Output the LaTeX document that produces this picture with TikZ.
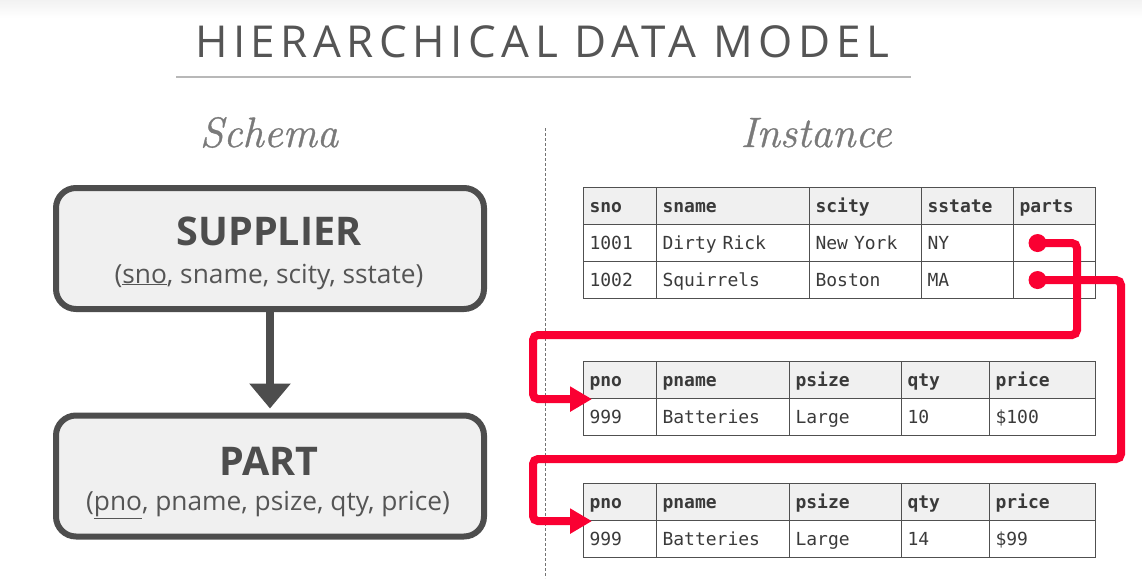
\documentclass[tikz,border=0pt]{standalone}
\usepackage{fontspec}
\setmainfont{Open Sans}
\newfontfamily\monof{DejaVu Sans Mono}
\newfontfamily\lmfont{Latin Modern Roman}[FakeBold=0.8]
\usetikzlibrary{arrows.meta}
\definecolor{boxline}{HTML}{4D4D4D}
\definecolor{boxfill}{HTML}{F0F0F0}
\definecolor{redc}{HTML}{FA0032}
\definecolor{txtgray}{HTML}{555555}
\definecolor{headgray}{HTML}{7A7A7A}
\definecolor{tblline}{HTML}{505050}
\definecolor{tbltext}{HTML}{3A3A3A}
\tikzset{
  schemabox/.style={draw=boxline, fill=boxfill, line width=6pt, rounded corners=20pt,
    minimum width=428pt, minimum height=121pt, inner sep=0pt},
  boxtitle/.style={anchor=base, text=boxline, font=\fontsize{39.5}{42}\selectfont\bfseries, inner sep=0pt},
  boxattr/.style={anchor=base, text=txtgray, font=\fontsize{26.3}{29}\selectfont, inner sep=0pt},
  section/.style={anchor=base, text=headgray, font=\lmfont\itshape\fontsize{42.5}{46}\selectfont, inner sep=0pt},
  cell/.style={draw=tblline, line width=1.1pt, anchor=north west, minimum height=37pt,
    inner xsep=6pt, inner ysep=0pt, text height=14pt, text depth=2pt, align=left,
    text=tbltext, font=\monof\fontsize{18}{20}\selectfont},
  hcell/.style={cell, fill=boxfill, font=\monof\bfseries\fontsize{18}{20}\selectfont},
  redline/.style={draw=redc, line width=8pt, rounded corners=5pt, -{Triangle[length=22pt,width=24pt]}},
  darrow/.style={draw=boxline, line width=8pt, -{Triangle[length=25pt,width=40pt]}},
}
\begin{document}
\begin{tikzpicture}[x=1pt,y=-1pt]
\useasboundingbox (0,0) rectangle (1142,578);
\shade[top color=black!5, bottom color=white] (0,0) rectangle (1142,18);
% title
\node[anchor=base, text=txtgray, inner sep=0pt, font=\addfontfeatures{LetterSpace=12.5}\fontsize{44}{48}\selectfont] (title) at (542,57) {HIERARCHICAL DATA MODEL};
\draw[line width=2pt, draw=black!28] (176,77) coordinate (ul1) -- (911,77) coordinate (ul2);
% section headings
\node[section] (schema) at (269,147) {Schema};
\node[section] (instance) at (816,147) {Instance};
\draw[draw=black!55, line width=0.9pt, dash pattern=on 3pt off 2pt] (545,128) coordinate (dv1) -- (545,578) coordinate (dv2);
% schema boxes
\node[schemabox] (supplier) at (270,248.5) {};
\node[boxtitle] (suptitle) at (269,245) {SUPPLIER};
\node[boxattr] (supattr) at (269,283) {(\underline{sno}, sname, scity, sstate)};
\node[schemabox] (part) at (270,476) {};
\node[boxtitle] (parttitle) at (269,475) {PART};
\node[boxattr] (partattr) at (268,510) {(\underline{pno}, pname, psize, qty, price)};
\draw[darrow, shorten >=4pt] (supplier.south) -- (part.north);
% supplier table
\foreach \x/\w/\t [count=\i] in {583/73/sno,656/153/sname,809/112/scity,921/92/sstate,1013/82/parts}{
  \node[hcell, text width=\w pt-12pt] (s-h\i) at (\x,187) {\t};
}
\foreach \x/\w/\t [count=\i] in {583/73/1001,656/153/Dirty Rick,809/112/New York,921/92/NY,1013/82/{}}{
  \node[cell, text width=\w pt-12pt] (s-a\i) at (\x,224) {\t};
}
\foreach \x/\w/\t [count=\i] in {583/73/1002,656/153/Squirrels,809/112/Boston,921/92/MA,1013/82/{}}{
  \node[cell, text width=\w pt-12pt] (s-b\i) at (\x,261) {\t};
}
% part table 1
\foreach \x/\w/\t [count=\i] in {583/73/pno,656/133/pname,789/112/psize,901/88/qty,989/106/price}{
  \node[hcell, text width=\w pt-12pt] (m-h\i) at (\x,361) {\t};
}
\foreach \x/\w/\t [count=\i] in {583/73/999,656/133/Batteries,789/112/Large,901/88/10,989/106/\$100}{
  \node[cell, text width=\w pt-12pt] (m-a\i) at (\x,398) {\t};
}
% part table 2
\foreach \x/\w/\t [count=\i] in {583/73/pno,656/133/pname,789/112/psize,901/88/qty,989/106/price}{
  \node[hcell, text width=\w pt-12pt] (n-h\i) at (\x,483) {\t};
}
\foreach \x/\w/\t [count=\i] in {583/73/999,656/133/Batteries,789/112/Large,901/88/14,989/106/\$99}{
  \node[cell, text width=\w pt-12pt] (n-a\i) at (\x,520) {\t};
}
% red pointers
\coordinate (d1) at ([xshift=-17pt]s-a5.center);
\coordinate (d2) at ([xshift=-17pt]s-b5.center);
\coordinate (t1) at ([xshift=9pt]m-h1.south west);
\coordinate (t2) at ([xshift=9pt]n-h1.south west);
\draw[redline] (d1) -- (d1 -| 1077,0) -- (1077,335) -- (533,335) -- (t1 -| 533,0) -- (t1);
\draw[redline] (d2) -- (d2 -| 1121,0) -- (1121,459) -- (533,459) -- (t2 -| 533,0) -- (t2);
\fill[redc] (d1) circle (9pt);
\fill[redc] (d2) circle (9pt);
\end{tikzpicture}
\end{document}
